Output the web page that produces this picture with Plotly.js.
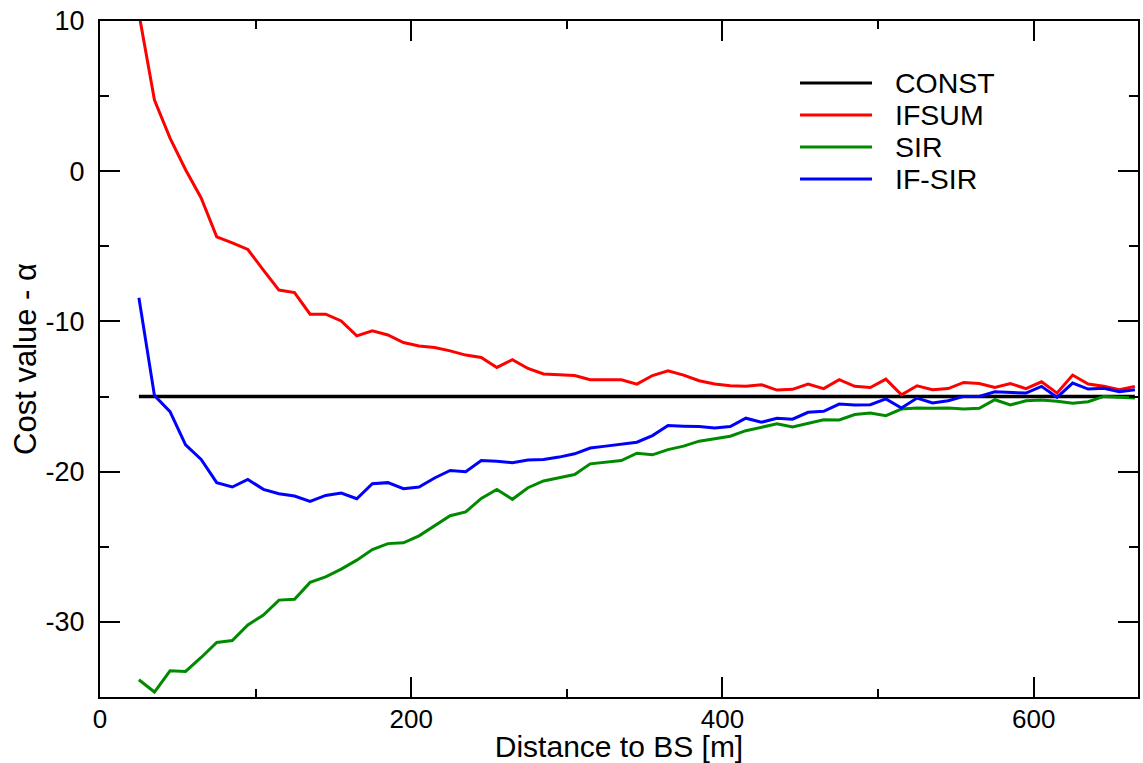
<!DOCTYPE html>
<html>
<head>
<meta charset="utf-8">
<script src="https://cdn.plot.ly/plotly-3.0.1.min.js"></script>
<style>html,body{margin:0;padding:0;background:#fff;}#chart{width:1143px;height:763px;}</style>
</head>
<body>
<div id="chart"></div>
<script>
const distance = [25,35,45,55,65,75,85,95,105,115,125,135,145,155,165,175,185,195,205,215,225,235,245,255,265,275,285,295,305,315,325,335,345,355,365,375,385,395,405,415,425,435,445,455,465,475,485,495,505,515,525,535,545,555,565,575,585,595,605,615,625,635,645,655,665];

const constX = [25, 665];
const constY = [-15, -15];

const ifsum = [10.5,4.74,2.2,0.1,-1.78,-4.37,-4.77,-5.21,-6.58,-7.91,-8.08,-9.52,-9.52,-9.97,-10.96,-10.63,-10.9,-11.4,-11.63,-11.73,-11.96,-12.24,-12.4,-13.06,-12.55,-13.13,-13.5,-13.57,-13.6,-13.88,-13.88,-13.88,-14.17,-13.6,-13.28,-13.57,-13.95,-14.17,-14.28,-14.32,-14.21,-14.57,-14.52,-14.17,-14.47,-13.88,-14.32,-14.4,-13.84,-14.88,-14.28,-14.55,-14.47,-14.06,-14.13,-14.4,-14.13,-14.47,-14.02,-14.77,-13.57,-14.17,-14.32,-14.55,-14.32];

const sir = [-33.85,-34.67,-33.26,-33.3,-32.37,-31.37,-31.24,-30.2,-29.54,-28.55,-28.5,-27.37,-27.0,-26.49,-25.89,-25.19,-24.79,-24.74,-24.27,-23.61,-22.93,-22.68,-21.78,-21.19,-21.84,-21.07,-20.62,-20.4,-20.19,-19.48,-19.36,-19.26,-18.77,-18.88,-18.53,-18.3,-17.97,-17.82,-17.64,-17.27,-17.04,-16.82,-17.02,-16.78,-16.54,-16.56,-16.2,-16.09,-16.27,-15.83,-15.76,-15.78,-15.76,-15.83,-15.78,-15.21,-15.56,-15.28,-15.23,-15.32,-15.45,-15.34,-14.99,-15.05,-15.1];

const ifsir = [-8.42,-14.94,-16.0,-18.21,-19.19,-20.73,-21.02,-20.52,-21.18,-21.47,-21.62,-21.98,-21.58,-21.42,-21.8,-20.8,-20.73,-21.13,-21.02,-20.42,-19.92,-20.01,-19.26,-19.3,-19.41,-19.23,-19.19,-19.03,-18.81,-18.43,-18.3,-18.19,-18.04,-17.6,-16.93,-16.97,-17.0,-17.09,-17.0,-16.44,-16.71,-16.44,-16.51,-16.05,-15.98,-15.5,-15.56,-15.54,-15.16,-15.76,-15.1,-15.43,-15.28,-14.99,-14.99,-14.68,-14.73,-14.77,-14.32,-15.05,-14.1,-14.5,-14.45,-14.68,-14.55];

const seriesNames = ['CONST','IFSUM','SIR','IF-SIR'];
const seriesColors = ['#000000','#ff0000','#008a00','#0000ff'];

const traces = [
  {x: constX, y: constY, name: seriesNames[0], mode:'lines', line:{color:seriesColors[0], width:3.5}},
  {x: distance, y: ifsum, name: seriesNames[1], mode:'lines', line:{color:seriesColors[1], width:3}},
  {x: distance, y: sir, name: seriesNames[2], mode:'lines', line:{color:seriesColors[2], width:3}},
  {x: distance, y: ifsir, name: seriesNames[3], mode:'lines', line:{color:seriesColors[3], width:3}}
];

// manual legend (long line samples like the reference)
const legX0 = (800-100)/1038, legX1 = (872-100)/1038, legTX = (893-100)/1038;
const legRows = [83,115,147,179].map(p => (697-p)/676);
const shapes = [], annotations = [];
seriesNames.forEach((n,i) => {
  shapes.push({type:'line', xref:'paper', yref:'paper', x0:legX0, x1:legX1, y0:legRows[i], y1:legRows[i], line:{color:seriesColors[i], width:3}});
  annotations.push({xref:'paper', yref:'paper', x:legTX, y:legRows[i], xanchor:'left', yanchor:'middle', text:n, showarrow:false, font:{size:28.5, color:'#000'}});
});

const font = {family:'"Liberation Sans", Arial, Helvetica, sans-serif', size:27, color:'#000'};

const layout = {
  width:1143, height:763,
  margin:{l:100, r:5, t:21, b:66, pad:0},
  paper_bgcolor:'#fff', plot_bgcolor:'#fff',
  font: font,
  showlegend:false,
  xaxis:{
    range:[0,667], tickvals:[0,200,400,600], ticktext:['0','200','400','600'],
    showgrid:false, zeroline:false, showline:true, linecolor:'#000', linewidth:2,
    mirror:'ticks', ticks:'inside', ticklen:20, tickwidth:2, tickcolor:'#000',
    minor:{tickvals:[100,300,500], ticks:'inside', ticklen:8, tickwidth:2, tickcolor:'#000', showgrid:false},
    tickfont:{size:26}, ticklabelstandoff:-2,
    title:{text:'Distance to BS [m]', font:{size:30}, standoff:3}
  },
  yaxis:{
    range:[-35,10], tickvals:[-30,-20,-10,0,10], ticktext:['-30','-20','-10','0','10'],
    showgrid:false, zeroline:false, showline:true, linecolor:'#000', linewidth:2,
    mirror:'ticks', ticks:'inside', ticklen:20, tickwidth:2, tickcolor:'#000',
    minor:{tickvals:[-25,-15,-5,5], ticks:'inside', ticklen:9, tickwidth:2, tickcolor:'#000', showgrid:false},
    tickfont:{size:27}, ticklabelstandoff:8,
    title:{text:'Cost value - α', font:{size:31}, standoff:0}
  },
  shapes: shapes,
  annotations: annotations
};

Plotly.newPlot('chart', traces, layout, {displayModeBar:false, staticPlot:true});
</script>
</body>
</html>
